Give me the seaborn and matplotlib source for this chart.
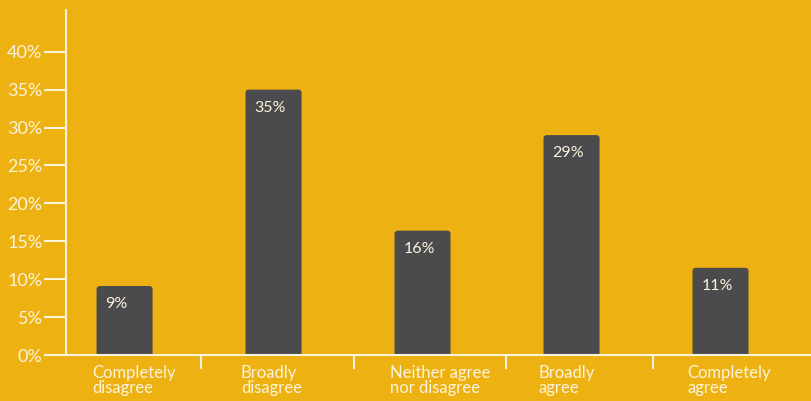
import matplotlib
matplotlib.use("Agg")
import matplotlib.pyplot as plt
import seaborn as sns
import pandas as pd
from matplotlib.patches import FancyBboxPatch

categories = ["Completely\ndisagree", "Broadly\ndisagree", "Neither agree\nnor disagree",
              "Broadly\nagree", "Completely\nagree"]
values = [9.1, 35, 16.4, 29, 11.5]
value_labels = ["9%", "35%", "16%", "29%", "11%"]
yticks = [0, 5, 10, 15, 20, 25, 30, 35, 40]

bg = "#EDB211"
bar_col = "#4B4B4D"
txt = "#FBF3DC"

sns.set_theme(style="white")
plt.rcParams["font.family"] = ["Lato", "DejaVu Sans"]

df = pd.DataFrame({"answer": categories, "share": values})

fig = plt.figure(figsize=(8.12, 4.01), dpi=100, facecolor=bg)
ax = fig.add_axes([66 / 812, 46 / 401, 1 - 66 / 812, 345 / 401])
ax.set_facecolor(bg)

sns.barplot(data=df, x="answer", y="share", color=bar_col, width=0.376,
            saturation=1, ax=ax)

ax.set_xlim(-0.393, 4.614)
ax.set_ylim(0, 45.5)

# swap plain bars for ones with slightly rounded tops
for p, lab in zip(list(ax.patches), value_labels):
    x, w, h = p.get_x(), p.get_width(), p.get_height()
    p.remove()
    fb = FancyBboxPatch((x, -2), w, h + 2, boxstyle="round,pad=0,rounding_size=0.02",
                        mutation_aspect=20, facecolor=bar_col, edgecolor="none",
                        clip_on=True, zorder=2)
    ax.add_patch(fb)
    ax.annotate(lab, (x, h), xytext=(6.3, -13), textcoords="offset points",
                ha="left", va="center", color=txt, fontsize=11.5, zorder=3)

ax.set_xlabel("")
ax.set_ylabel("")

ax.set_yticks(yticks)
ax.set_yticklabels([f"{t}%" for t in yticks], color=txt, fontsize=13)
ax.tick_params(axis="y", length=16, width=1.5, color=txt, pad=1, left=True)

# category labels sit left-aligned under each bar
ax.set_xticks([i - 0.22 for i in range(len(categories))])
ax.set_xticklabels(categories, ha="left", color=txt, fontsize=12, linespacing=0.95)
ax.tick_params(axis="x", length=0, pad=7)

ax.set_xticks([0.51, 1.54, 2.56, 3.55], minor=True)
ax.tick_params(axis="x", which="minor", length=10, width=1.5, color=txt, bottom=True)

for s in ["top", "right"]:
    ax.spines[s].set_visible(False)
for s in ["left", "bottom"]:
    ax.spines[s].set_color(txt)
    ax.spines[s].set_linewidth(1.5)

fig.savefig("out.png", dpi=100, facecolor=bg)
